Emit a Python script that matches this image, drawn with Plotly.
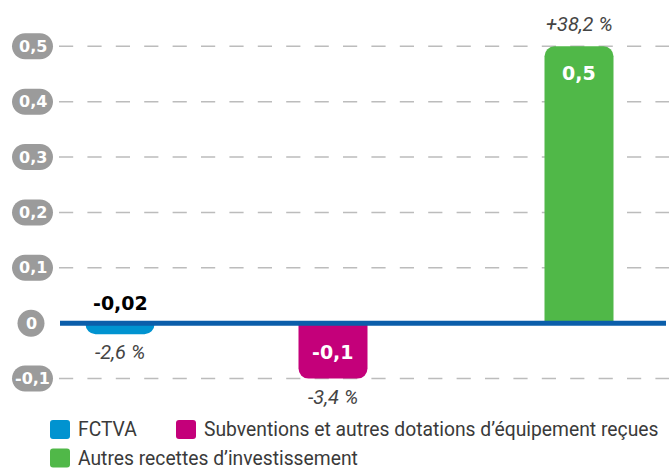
import plotly.graph_objects as go

# Data
categories = ["FCTVA", "Subventions et autres dotations d’équipement reçues", "Autres recettes d’investissement"]
values = [-0.02, -0.1, 0.5]
changes = ["-2,6 %", "-3,4 %", "+38,2 %"]
tick_values = [0.5, 0.4, 0.3, 0.2, 0.1, 0, -0.1]

# Styling / layout constants
colors = ["#0093d0", "#c4007a", "#50b848"]
slot_centres = [120, 333, 579]      # x positions of the bars on the horizontal axis
bar_width = 69
W, H = 669, 472
zero_px, half_px = 323.2, 46.3
px_per_unit = (zero_px - half_px) / 0.5
y_max = zero_px / px_per_unit
y_min = -(H - zero_px) / px_per_unit

# legend key placement (pixels): left edge of swatch, vertical centre of row
legend_slots = [(50, 429.5), (176, 429.5), (50, 458)]

VALUE_FONT = "DejaVu Sans"
TEXT_FONT = "Roboto, sans-serif"


def fr(v):
    s = f"{v:.2f}".rstrip("0").rstrip(".")
    if s in ("-0", ""):
        s = "0"
    return s.replace(".", ",")


def u(px):
    """pixel length -> y data units"""
    return px / px_per_unit


def stadium(cx, cy, w, h):
    r = h / 2
    k = 0.5523 * r
    x0, x1 = cx - w / 2, cx + w / 2
    yt, yb = cy + u(r), cy - u(r)
    ky = u(k)
    return (
        f"M{x0 + r},{yt} L{x1 - r},{yt} "
        f"C{x1 - r + k},{yt} {x1},{cy + ky} {x1},{cy} "
        f"C{x1},{cy - ky} {x1 - r + k},{yb} {x1 - r},{yb} "
        f"L{x0 + r},{yb} "
        f"C{x0 + r - k},{yb} {x0},{cy - ky} {x0},{cy} "
        f"C{x0},{cy + ky} {x0 + r - k},{yt} {x0 + r},{yt} Z"
    )


def rounded_box_paper(x0, yc, w, h, r):
    """rounded rectangle given in pixels, returned as a paper-coordinate path"""
    px = lambda x: x / W
    py = lambda y: 1 - y / H
    x1 = x0 + w
    y0, y1 = yc - h / 2, yc + h / 2
    return (
        f"M{px(x0 + r)},{py(y0)} L{px(x1 - r)},{py(y0)} Q{px(x1)},{py(y0)} {px(x1)},{py(y0 + r)} "
        f"L{px(x1)},{py(y1 - r)} Q{px(x1)},{py(y1)} {px(x1 - r)},{py(y1)} "
        f"L{px(x0 + r)},{py(y1)} Q{px(x0)},{py(y1)} {px(x0)},{py(y1 - r)} "
        f"L{px(x0)},{py(y0 + r)} Q{px(x0)},{py(y0)} {px(x0 + r)},{py(y0)} Z"
    )


fig = go.Figure()
for name, v, c, xc in zip(categories, values, colors, slot_centres):
    fig.add_trace(go.Bar(
        x=[xc], y=[v], width=[bar_width], name=name,
        marker=dict(color=c, line=dict(width=0)),
        hoverinfo="skip", showlegend=False,
    ))

shapes = []
annotations = []

# dashed gridlines and pill tick labels
for t in tick_values:
    if t != 0:
        shapes.append(dict(
            type="line", xref="x", yref="y", x0=59, x1=W, y0=t, y1=t,
            line=dict(color="#bcbcbc", width=1.5, dash="14.2px,14.2px"), layer="below",
        ))
        shapes.append(dict(type="path", xref="x", yref="y", path=stadium(32.5, t, 41, 26),
                           fillcolor="#9b9b9b", line=dict(width=0), layer="below"))
    else:
        shapes.append(dict(type="path", xref="x", yref="y", path=stadium(31, t, 27, 27),
                           fillcolor="#9b9b9b", line=dict(width=0), layer="below"))
    annotations.append(dict(
        x=32.5 if t != 0 else 31, y=t, xref="x", yref="y", text=fr(t), showarrow=False,
        font=dict(family=VALUE_FONT, size=16, color="white", weight="bold"),
        xanchor="center", yanchor="middle",
    ))

# zero line
shapes.append(dict(type="line", xref="x", yref="y", x0=60, x1=666, y0=0, y1=0,
                   line=dict(color="#0b5eaa", width=5), layer="above"))

# value and change labels
for v, ch, xc in zip(values, changes, slot_centres):
    bar_px = abs(v) * px_per_unit
    if bar_px < 40:
        # too thin: value sits above the zero line in black
        annotations.append(dict(x=xc, y=0, text=f"<b>{fr(v)}</b>", showarrow=False,
                                font=dict(family=VALUE_FONT, size=19, color="black"),
                                yanchor="middle", yshift=20))
    elif v < 0:
        annotations.append(dict(x=xc, y=v / 2, text=f"<b>{fr(v)}</b>", showarrow=False,
                                font=dict(family=VALUE_FONT, size=19, color="white"),
                                yanchor="middle", yshift=-1))
    else:
        annotations.append(dict(x=xc, y=v, text=f"<b>{fr(v)}</b>", showarrow=False,
                                font=dict(family=VALUE_FONT, size=19, color="white"),
                                yanchor="middle", yshift=-27))
    annotations.append(dict(x=xc, y=v, text=f"<i>{ch}</i>", showarrow=False,
                            font=dict(family=TEXT_FONT, size=20, color="#444444"),
                            yanchor="middle", yshift=(22 if v > 0 else -18)))

# legend: rounded colour swatches with their labels
for name, c, (lx, ly) in zip(categories, colors, legend_slots):
    shapes.append(dict(type="path", xref="paper", yref="paper",
                       path=rounded_box_paper(lx, ly, 20, 19, 3),
                       fillcolor=c, line=dict(width=0)))
    annotations.append(dict(x=(lx + 27) / W, y=1 - ly / H, xref="paper", yref="paper",
                            text=name, showarrow=False, xanchor="left", yanchor="middle",
                            borderpad=0,
                            font=dict(family=TEXT_FONT, size=19.3, color="#3a3a3a")))

fig.update_layout(
    width=W, height=H,
    margin=dict(l=0, r=0, t=0, b=0),
    paper_bgcolor="white", plot_bgcolor="white",
    barmode="overlay", barcornerradius=10,
    xaxis=dict(range=[0, W], visible=False, fixedrange=True),
    yaxis=dict(range=[y_min, y_max], visible=False, fixedrange=True),
    shapes=shapes, annotations=annotations,
    showlegend=False,
)

fig.write_html("out.html")
